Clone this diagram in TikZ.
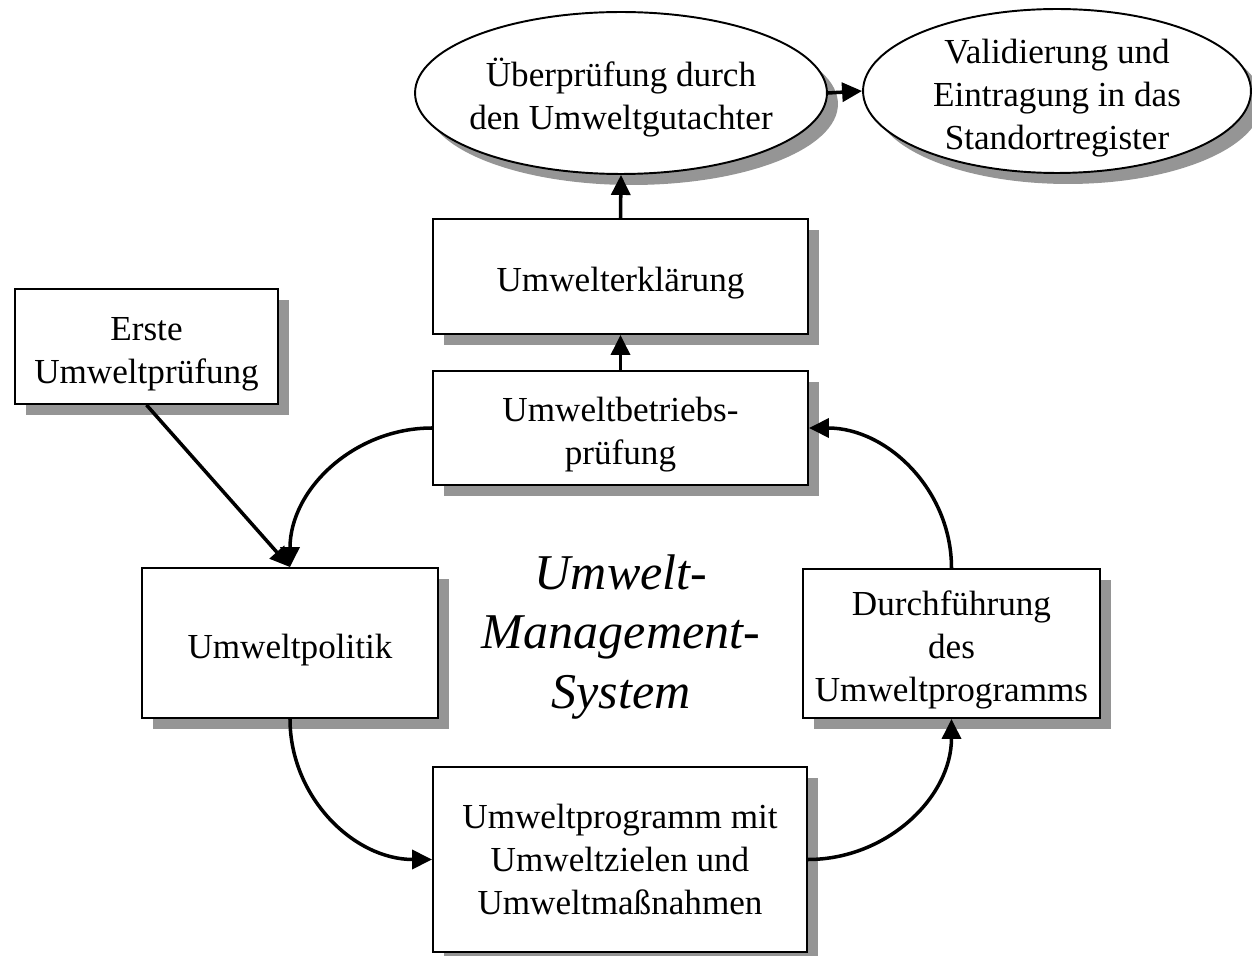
\documentclass[tikz,border=0pt]{standalone}
\usepackage{fontspec}
\setmainfont{Liberation Serif}
\usetikzlibrary{shapes.geometric,shadows,arrows.meta}
\definecolor{shadowgray}{RGB}{149,149,149}
\newcommand{\topstrut}{\rule{0pt}{21.5pt}}

\begin{document}
\begin{tikzpicture}[x=0.02cm,y=-0.02cm,
        box/.style={draw, line width=1.1pt, fill=white, align=center, inner sep=0pt,
            font=\fontsize{20}{24.5}\selectfont,
            drop shadow={shadow xshift=0.22cm, shadow yshift=-0.22cm, fill=shadowgray, opacity=1}},
        oval/.style={box, ellipse, inner sep=-0.6cm},
        flow/.style={line width=2pt, -{Triangle[length=0.4cm,width=0.38cm]}}]
        \useasboundingbox (0,0) rectangle (1252,956);
        % top row
        \node[oval, minimum width=8.24cm, minimum height=3.24cm] (pruefung) at (621,93)
            {\topstrut Überprüfung durch\\den Umweltgutachter};
        \node[oval, minimum width=7.76cm, minimum height=3.28cm] (register) at (1057,91)
            {\topstrut Validierung und\\Eintragung in das\\Standortregister};
        \node[box, minimum width=7.5cm, minimum height=2.3cm] (erklaerung) at (620.5,276.5) {\topstrut Umwelterklärung};
        \node[box, minimum width=7.5cm, minimum height=2.28cm] (betrieb) at (620.5,428) {\topstrut Umweltbetriebs-\\prüfung};
        \node[box, minimum width=5.26cm, minimum height=2.3cm] (erste) at (146.5,346.5) {\topstrut Erste\\Umweltprüfung};
        % cycle
        \node[box, minimum width=5.92cm, minimum height=3cm] (politik) at (290,643) {\topstrut Umweltpolitik};
        \node[box, minimum width=5.94cm, minimum height=2.98cm] (durchf) at (951.5,643.5)
            {\topstrut Durchführung\\des\\Umweltprogramms};
        \node[box, minimum width=7.48cm, minimum height=3.7cm] (programm) at (620,859.5)
            {Umweltprogramm mit\\Umweltzielen und\\Umweltmaßnahmen};
        \node[font=\fontsize{28.5}{34}\selectfont\itshape, align=center] (ums) at (621,637)
            {Umwelt-\\Management-\\System};
        % arrows
        \draw[flow] (betrieb.north) -- (erklaerung.south);
        \draw[flow] (erklaerung.north) -- (pruefung.south);
        \draw[flow] (pruefung.east) -- (register.west);
        \draw[flow] (erste.south) -- (politik.north);
        \draw[flow] (betrieb.west) to[out=180,in=90] (politik.north);
        \draw[flow] (politik.south) to[out=-90,in=180] (programm.west);
        \draw[flow] (programm.east) to[out=0,in=-90] (durchf.south);
        \draw[flow] (durchf.north) to[out=90,in=0] (betrieb.east);
    \end{tikzpicture}
\end{document}
